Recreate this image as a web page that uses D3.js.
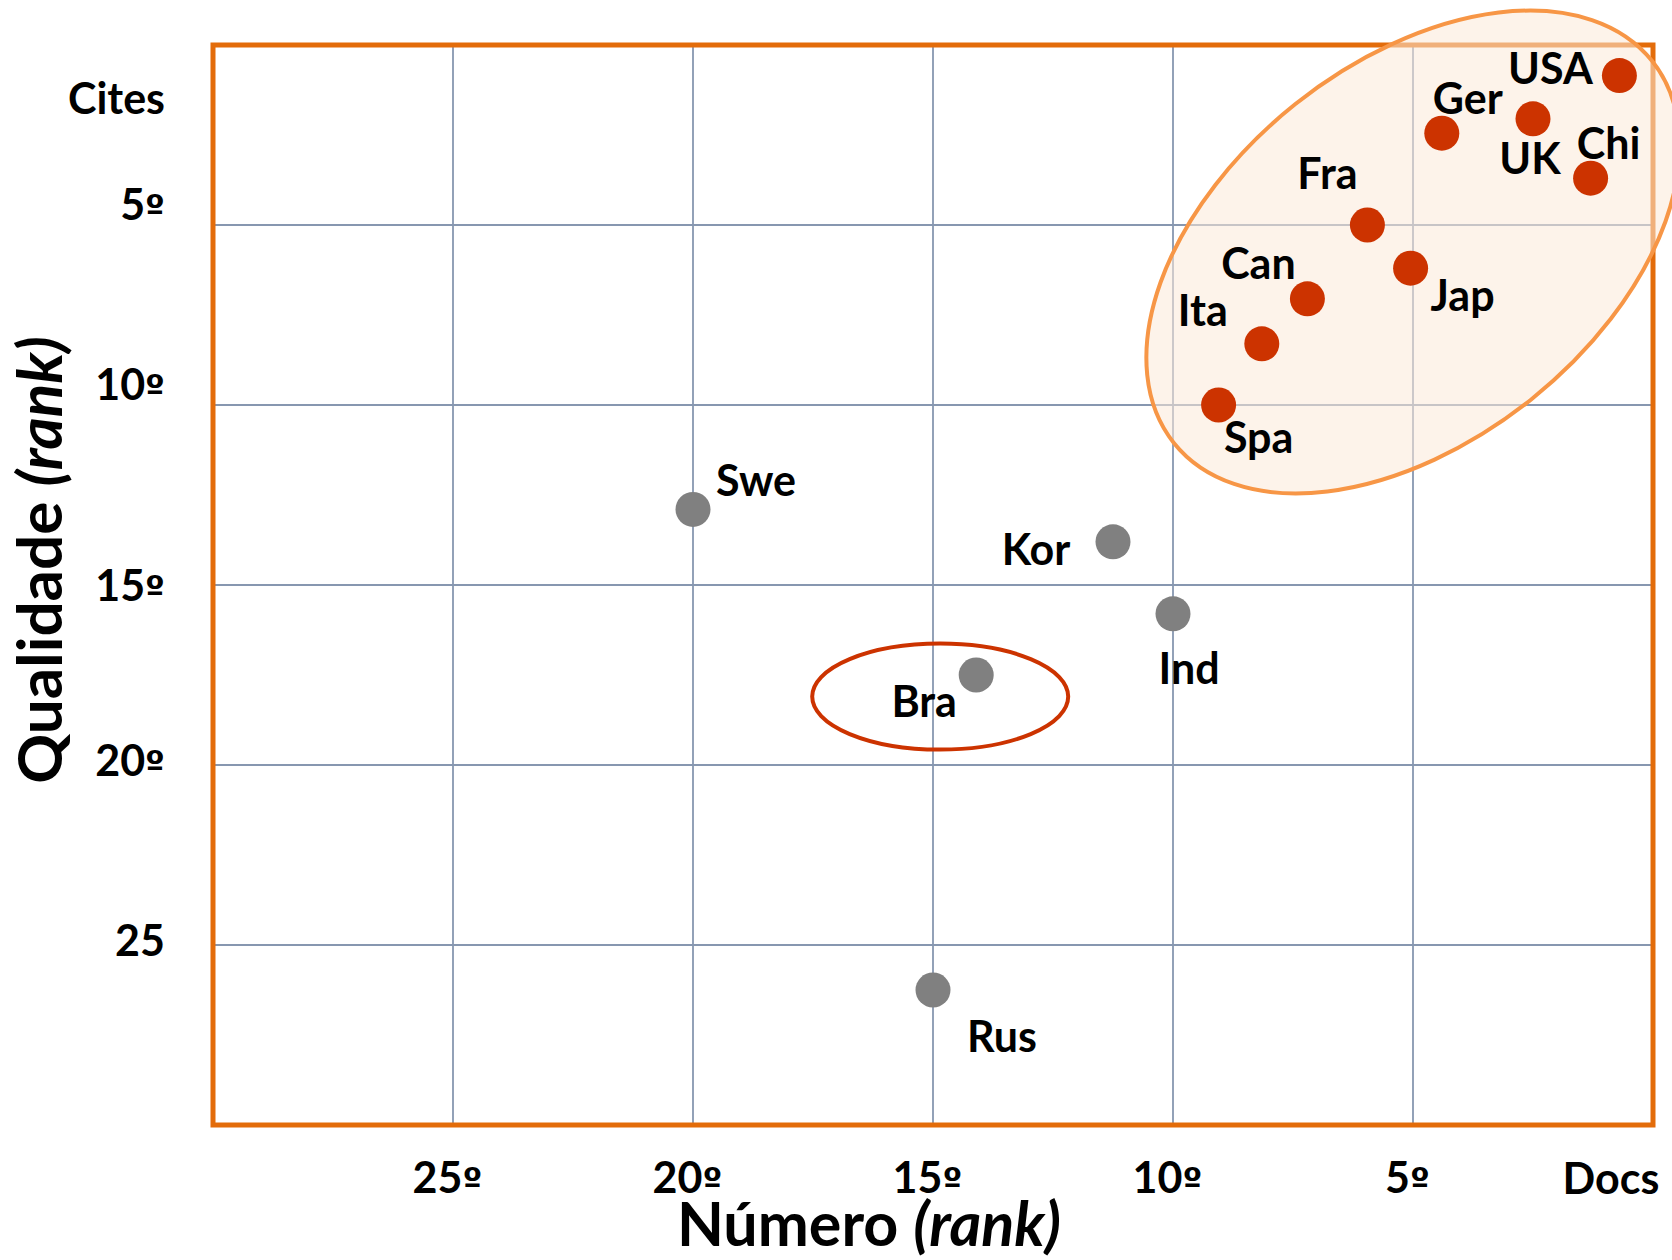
<!DOCTYPE html>
<html>
<head>
<meta charset="utf-8">
<script src="https://cdnjs.cloudflare.com/ajax/libs/d3/7.8.5/d3.min.js"></script>
<style>
  html, body { margin: 0; padding: 0; background: #ffffff; }
  svg { display: block; }
  text { font-family: Lato, "Open Sans", sans-serif; font-weight: 700; fill: #000; }
  .ord { font-family: "DejaVu Sans", sans-serif; }
</style>
</head>
<body>
<svg id="chart" width="1672" height="1260"></svg>
<script>
// Country ranks: x = number of documents (rank), y = citations (rank)
const countries = ["USA", "Ger", "UK", "Chi", "Fra", "Jap", "Can", "Ita", "Spa", "Swe", "Kor", "Ind", "Bra", "Rus"];
const docsRank  = [0.7, 4.4, 2.5, 1.3, 5.95, 5.05, 7.2, 8.15, 9.05, 20.0, 11.25, 10.0, 14.1, 15.0];
const citesRank = [0.85, 2.45, 2.05, 3.7, 5.0, 6.2, 7.05, 8.3, 10.0, 12.9, 13.8, 15.8, 17.5, 26.25];
const leaders   = [true, true, true, true, true, true, true, true, true, false, false, false, false, false];

// Axis ticks
const xTicks = [25, 20, 15, 10, 5];
const xTickLabels = ["25º", "20º", "15º", "10º", "5º"];
const yTicks = [5, 10, 15, 20, 25];
const yTickLabels = ["5º", "10º", "15º", "20º", "25"];

const svg = d3.select("#chart");

const x = d3.scaleLinear().domain([30, 0]).range([213, 1653]);
const y = d3.scaleLinear().domain([0, 30]).range([45, 1125]);

// Split "10º" into number + ordinal sign so the sign can use an underlined glyph
function ordinalText(sel) {
  sel.each(function () {
    const t = d3.select(this);
    const s = t.text();
    t.text(null);
    const m = s.match(/^(\d+)(º?)$/);
    t.append("tspan").text(m ? m[1] : s);
    if (m && m[2]) t.append("tspan").attr("class", "ord").attr("font-size", "0.82em").text(m[2]);
  });
}

// Grid
const grid = svg.append("g");
grid.selectAll("line.v").data(xTicks).join("line")
  .attr("x1", d => x(d)).attr("x2", d => x(d))
  .attr("y1", y(0)).attr("y2", y(30))
  .attr("stroke", "#8797b0").attr("stroke-width", 1.8);
grid.selectAll("line.h").data(yTicks).join("line")
  .attr("x1", x(30)).attr("x2", x(0))
  .attr("y1", d => y(d)).attr("y2", d => y(d))
  .attr("stroke", "#8797b0").attr("stroke-width", 1.8);

// Plot frame
svg.append("rect")
  .attr("x", x(30)).attr("y", y(0))
  .attr("width", x(0) - x(30)).attr("height", y(30) - y(0))
  .attr("fill", "none").attr("stroke", "#e36c0a").attr("stroke-width", 5);

// Tick labels
const xAxis = d3.axisBottom(x).tickValues(xTicks).tickSize(0)
  .tickFormat((d, i) => xTickLabels[i]);
const gx = svg.append("g").attr("transform", `translate(0, ${y(30)})`).call(xAxis);
gx.select(".domain").remove();
gx.selectAll("text").attr("font-size", 43).attr("font-family", null)
  .attr("dx", -6).attr("dy", 0).attr("y", 68).attr("fill", "#000")
  .call(ordinalText);

// vertical nudge of each y tick label relative to its grid line (px)
const yLabelShift = { 5: -21, 10: -21, 15: 0, 20: -5, 25: -5 };
const yAxis = d3.axisLeft(y).tickValues(yTicks).tickSize(0)
  .tickFormat((d, i) => yTickLabels[i]);
const gy = svg.append("g").attr("transform", `translate(${x(30)}, 0)`).call(yAxis);
gy.select(".domain").remove();
gy.selectAll("text").attr("font-size", 43).attr("font-family", null)
  .attr("x", -48).attr("dy", "0.36em").attr("fill", "#000")
  .attr("y", d => yLabelShift[d])
  .call(ordinalText);

svg.append("text").attr("x", 165).attr("y", 114)
  .attr("text-anchor", "end").attr("font-size", 43).text("Cites");
svg.append("text").attr("x", 1611).attr("y", 1194)
  .attr("text-anchor", "middle").attr("font-size", 43).text("Docs");

// Axis titles
const xt = svg.append("text").attr("x", 869).attr("y", 1246)
  .attr("text-anchor", "middle").attr("font-size", 61);
xt.append("tspan").text("Número ");
xt.append("tspan").attr("font-style", "italic").text("(rank)");

const yt = svg.append("text")
  .attr("transform", "translate(62, 560) rotate(-90)")
  .attr("text-anchor", "middle").attr("font-size", 62);
yt.append("tspan").text("Qualidade ");
yt.append("tspan").attr("font-style", "italic").text("(rank)");

// Highlight around the leading group
svg.append("ellipse")
  .attr("transform", `translate(${x(5.0)}, ${y(5.75)}) rotate(-38.6)`)
  .attr("rx", 306).attr("ry", 189)
  .attr("fill", "rgba(251,233,216,0.55)")
  .attr("stroke", "#f79646").attr("stroke-width", 4);

// Highlight around Brazil
svg.append("ellipse")
  .attr("cx", x(14.85)).attr("cy", y(18.1))
  .attr("rx", 128).attr("ry", 53)
  .attr("fill", "none").attr("stroke", "#cc3300").attr("stroke-width", 4);

// Points
const data = countries.map((c, i) => ({ name: c, dx: docsRank[i], cy: citesRank[i], lead: leaders[i] }));
svg.append("g").selectAll("circle").data(data).join("circle")
  .attr("cx", d => x(d.dx)).attr("cy", d => y(d.cy)).attr("r", 17.5)
  .attr("fill", d => d.lead ? "#cc3300" : "#808080");

// Label placement relative to each point (px)
const labelOffset = {
  USA: [-69, -7], Ger: [26, -35], UK: [-3, 40], Chi: [18, -35], Fra: [-40, -51],
  Jap: [52, 27], Can: [-49, -35], Ita: [-59, -33], Spa: [40, 33], Swe: [63, -29],
  Kor: [-77, 8], Ind: [16, 55], Bra: [-52, 27], Rus: [69, 47]
};
svg.append("g").selectAll("text").data(data).join("text")
  .attr("x", d => x(d.dx) + labelOffset[d.name][0])
  .attr("y", d => y(d.cy) + labelOffset[d.name][1])
  .attr("text-anchor", "middle").attr("dy", "0.36em")
  .attr("font-size", 43).text(d => d.name);
</script>
</body>
</html>
